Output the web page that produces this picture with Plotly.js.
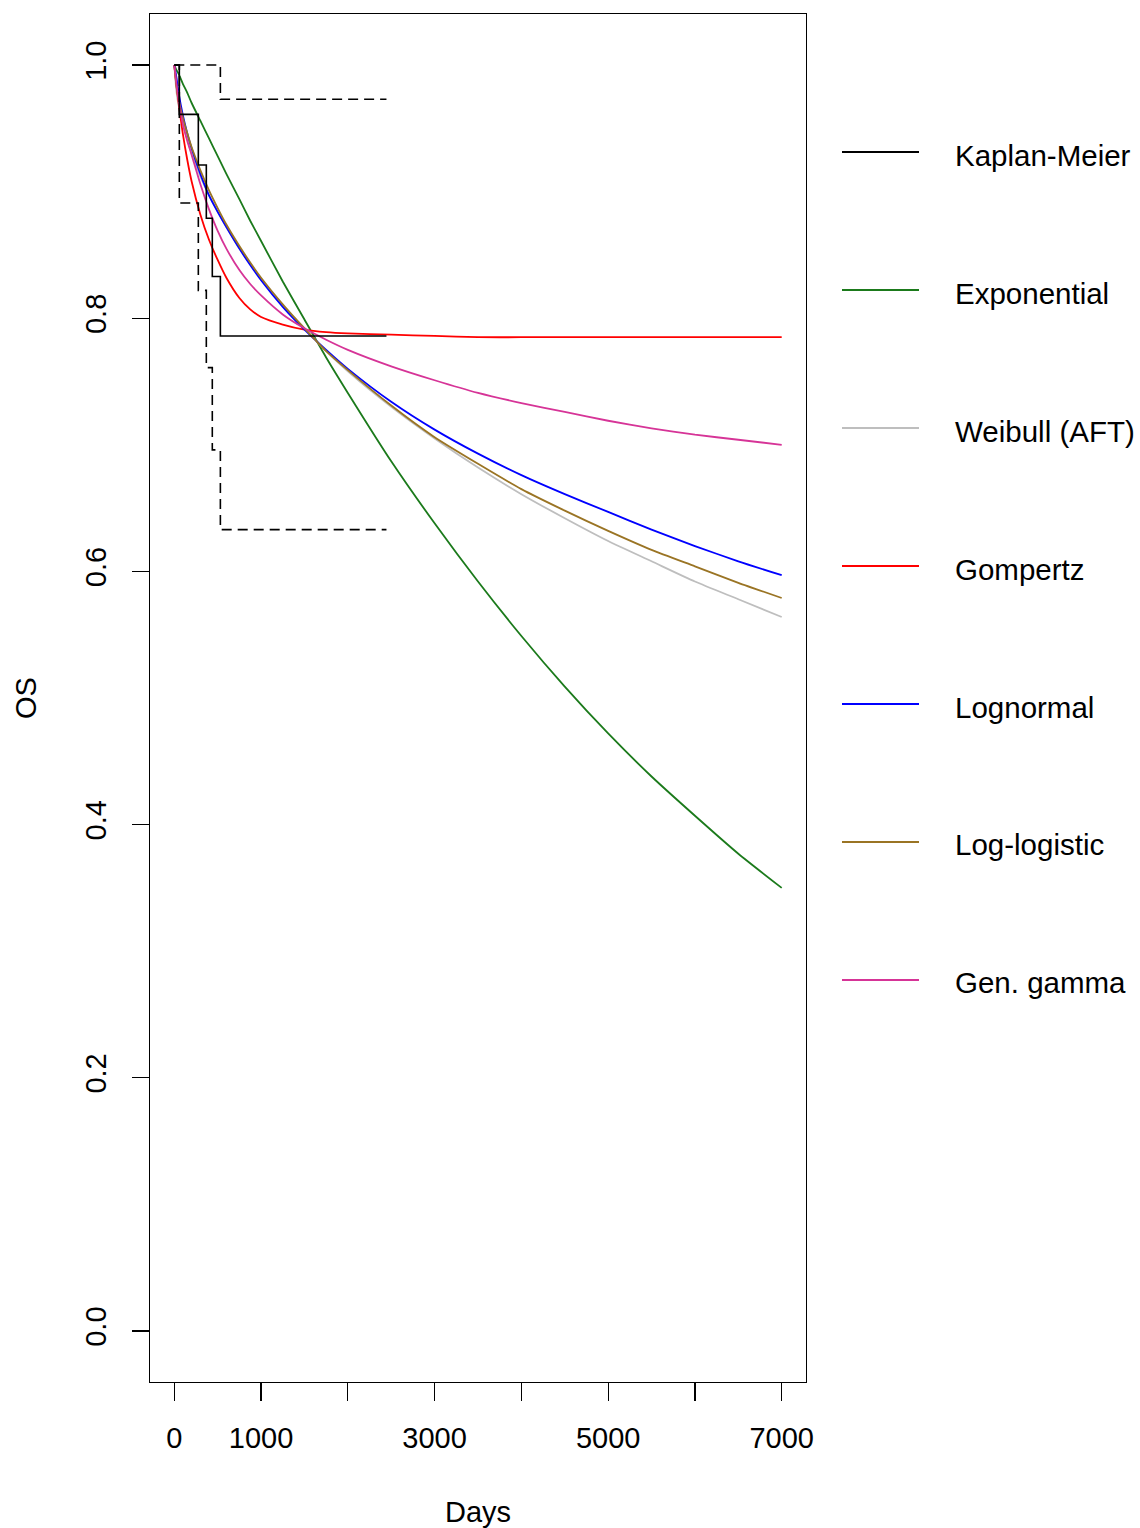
<!DOCTYPE html>
<html>
<head>
<meta charset="utf-8">
<script src="https://cdn.plot.ly/plotly-3.0.1.min.js"></script>
<style>
  html, body { margin: 0; padding: 0; background: #fff; }
  #chart { width: 1140px; height: 1528px; }
</style>
</head>
<body>
<div id="chart"></div>
<script>
// ---- Data ----
const kmDays   = [0, 58, 277, 369, 438, 531, 2445];
const kmSurv   = [1.0, 0.961, 0.921, 0.879, 0.833, 0.786, 0.786];
const kmUpper  = [1.0, 1.0, 1.0, 1.0, 1.0, 0.973, 0.973];
const kmLower  = [1.0, 0.891, 0.822, 0.761, 0.696, 0.633, 0.633];

const days = [0, 25, 50, 100, 150, 200, 300, 400, 500, 600, 750, 875, 1000, 1250, 1500, 1750,
              2000, 2500, 3000, 3500, 4000, 4500, 5000, 5500, 6000, 6500, 7000];
const exponential = [1, 0.996, 0.993, 0.985, 0.978, 0.970, 0.956, 0.942, 0.928, 0.914, 0.894, 0.877, 0.861, 0.829, 0.799, 0.769,
                     0.741, 0.687, 0.638, 0.592, 0.549, 0.509, 0.472, 0.438, 0.407, 0.377, 0.350];
const weibull     = [1, 0.979, 0.968, 0.953, 0.941, 0.930, 0.912, 0.897, 0.884, 0.872, 0.855, 0.843, 0.831, 0.810, 0.792, 0.774,
                     0.758, 0.730, 0.705, 0.682, 0.661, 0.642, 0.624, 0.608, 0.592, 0.578, 0.564];
const gompertz    = [1, 0.984, 0.970, 0.945, 0.925, 0.908, 0.882, 0.862, 0.846, 0.832, 0.816, 0.807, 0.801, 0.795, 0.791, 0.789,
                     0.788, 0.787, 0.786, 0.785, 0.785, 0.785, 0.785, 0.785, 0.785, 0.785, 0.785];
const lognormal   = [1, 0.990, 0.978, 0.960, 0.946, 0.934, 0.914, 0.897, 0.884, 0.872, 0.855, 0.842, 0.830, 0.809, 0.791, 0.775,
                     0.760, 0.734, 0.712, 0.693, 0.676, 0.661, 0.647, 0.633, 0.620, 0.608, 0.597];
const loglogistic = [1, 0.983, 0.973, 0.958, 0.946, 0.935, 0.917, 0.901, 0.887, 0.874, 0.857, 0.844, 0.832, 0.811, 0.792, 0.774,
                     0.759, 0.731, 0.706, 0.685, 0.665, 0.648, 0.632, 0.617, 0.604, 0.591, 0.579];
const gengamma    = [1, 0.985, 0.972, 0.953, 0.940, 0.929, 0.906, 0.886, 0.869, 0.855, 0.838, 0.827, 0.818, 0.803, 0.792, 0.783,
                     0.775, 0.762, 0.751, 0.741, 0.733, 0.726, 0.719, 0.713, 0.708, 0.704, 0.700];

const legendNames  = ["Kaplan-Meier", "Exponential", "Weibull (AFT)", "Gompertz", "Lognormal", "Log-logistic", "Gen. gamma"];
const legendColors = ["#000000", "#1B7A1B", "#BEBEBE", "#FF0000", "#0000FF", "#9A7424", "#D63497"];

const xTickVals = [0, 1000, 2000, 3000, 4000, 5000, 6000, 7000];
const xTickText = ["0", "1000", "", "3000", "", "5000", "", "7000"];
const yTickVals = [0, 0.2, 0.4, 0.6, 0.8, 1.0];
const yTickText = ["0.0", "0.2", "0.4", "0.6", "0.8", "1.0"];

// ---- Traces ----
const LW = 1.8;
const traces = [];
function curve(y, color) {
  traces.push({x: days, y: y, type: 'scatter', mode: 'lines',
               line: {color: color, width: LW, shape: 'spline', smoothing: 0.6},
               showlegend: false, hoverinfo: 'skip'});
}
curve(exponential, legendColors[1]);
curve(weibull, legendColors[2]);
curve(gompertz, legendColors[3]);
curve(lognormal, legendColors[4]);
curve(loglogistic, legendColors[5]);
curve(gengamma, legendColors[6]);
traces.push({x: kmDays, y: kmUpper, type: 'scatter', mode: 'lines',
             line: {color: '#000', width: 1.6, dash: '10px,6px', shape: 'hv'}, showlegend: false});
traces.push({x: kmDays, y: kmLower, type: 'scatter', mode: 'lines',
             line: {color: '#000', width: 1.6, dash: '10px,6px', shape: 'hv'}, showlegend: false});
traces.push({x: kmDays, y: kmSurv, type: 'scatter', mode: 'lines',
             line: {color: '#000', width: 1.6, shape: 'hv'}, showlegend: false});

// ---- Manual legend (R style, outside right) ----
const L = 150, R = 806, T = 14, B = 1382;
const px = p => (p - L) / (R - L);
const py = p => (B - p) / (B - T);
const shapes = [], annotations = [];
legendNames.forEach((name, i) => {
  const yc = 152 + i * 138;
  shapes.push({type: 'line', xref: 'paper', yref: 'paper',
               x0: px(842), x1: px(919), y0: py(yc), y1: py(yc),
               line: {color: legendColors[i], width: LW}});
  annotations.push({xref: 'paper', yref: 'paper', x: px(953), y: py(yc + 3),
                    xanchor: 'left', yanchor: 'middle', showarrow: false, text: name,
                    font: {size: 29.5, color: '#000'}});
});

const FONT = 'Liberation Sans, Arial, sans-serif';
const layout = {
  width: 1140, height: 1528,
  margin: {l: L, r: 1140 - R, t: T, b: 1528 - B, pad: 0},
  paper_bgcolor: '#fff', plot_bgcolor: '#fff',
  font: {family: FONT, size: 29, color: '#000'},
  showlegend: false,
  xaxis: {
    range: [-280, 7280], autorange: false,
    tickmode: 'array', tickvals: xTickVals, ticktext: xTickText,
    ticks: 'outside', ticklen: 18, tickwidth: 1.3, tickcolor: '#000',
    showline: true, linecolor: '#000', linewidth: 1.3, mirror: true,
    showgrid: false, zeroline: false,
    tickfont: {size: 29, family: FONT},
    ticklabelstandoff: 12,
    title: {text: 'Days', font: {size: 29, family: FONT}, standoff: 48}
  },
  yaxis: {
    range: [-0.0403, 1.0403], autorange: false,
    tickmode: 'array', tickvals: yTickVals, ticktext: yTickText,
    ticks: 'outside', ticklen: 17, tickwidth: 1.3, tickcolor: '#000',
    showline: true, linecolor: '#000', linewidth: 1.3, mirror: true,
    showgrid: false, zeroline: false,
    tickangle: -90,
    tickfont: {size: 29, family: FONT},
    ticklabelstandoff: 14,
    title: {text: 'OS', font: {size: 29, family: FONT}, standoff: 35}
  },
  shapes: shapes,
  annotations: annotations
};

Plotly.newPlot('chart', traces, layout, {staticPlot: true, displayModeBar: false});
</script>
</body>
</html>
